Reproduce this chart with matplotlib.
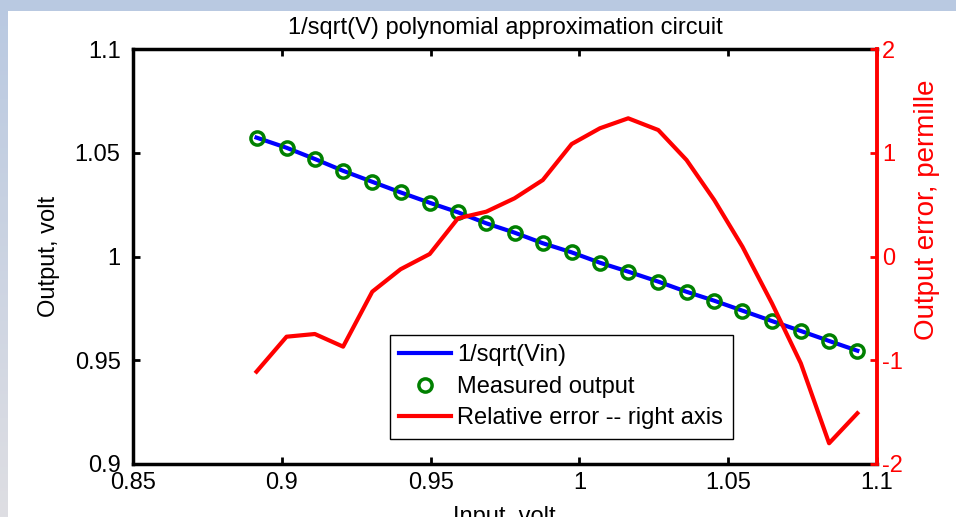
import matplotlib
matplotlib.use("Agg")
import matplotlib.pyplot as plt
import numpy as np
from matplotlib.patches import Rectangle

plt.rcParams['font.family'] = ['Liberation Sans', 'DejaVu Sans']

# ---- data ----
vin = [0.8915, 0.9016, 0.9111, 0.9206, 0.9304, 0.9399, 0.9497, 0.9592, 0.9687, 0.9782, 0.9877,
       0.9974, 1.0069, 1.0164, 1.0265, 1.0360, 1.0453, 1.0548, 1.0647, 1.0744, 1.0839, 1.0934]
ideal = [1.0573, 1.0524, 1.0470, 1.0413, 1.0360, 1.0309, 1.0259, 1.0213, 1.0160, 1.0115, 1.0064,
         1.0020, 0.9970, 0.9927, 0.9879, 0.9830, 0.9787, 0.9739, 0.9689, 0.9641, 0.9593, 0.9546]
measured = [1.0573, 1.0524, 1.0470, 1.0413, 1.0360, 1.0309, 1.0259, 1.0213, 1.0160, 1.0115, 1.0064,
            1.0020, 0.9970, 0.9927, 0.9879, 0.9830, 0.9787, 0.9739, 0.9689, 0.9641, 0.9593, 0.9546]
rel_err = [-1.110, -0.773, -0.747, -0.869, -0.339, -0.123, 0.024, 0.368, 0.432, 0.561, 0.737,
           1.084, 1.236, 1.332, 1.219, 0.930, 0.545, 0.094, -0.451, -1.029, -1.800, -1.511]

x_ticks = [0.85, 0.9, 0.95, 1.0, 1.05, 1.1]
x_tick_labels = ['0.85', '0.9', '0.95', '1', '1.05', '1.1']
y_ticks = [0.9, 0.95, 1.0, 1.05, 1.1]
y_tick_labels = ['0.9', '0.95', '1', '1.05', '1.1']
y2_ticks = [-2, -1, 0, 1, 2]
y2_tick_labels = ['-2', '-1', '0', '1', '2']

W, H = 956, 517
fig = plt.figure(figsize=(W / 100, H / 100), dpi=100, facecolor='white')

# slide background strips
bg = fig.add_axes([0, 0, 8 / W, 1], zorder=-10)
grad = np.linspace(0, 1, 256).reshape(-1, 1)
top_c = np.array([185, 201, 225]) / 255
bot_c = np.array([222, 222, 227]) / 255
img = top_c[None, None, :] * (1 - grad[:, :, None]) + bot_c[None, None, :] * grad[:, :, None]
bg.imshow(img, aspect='auto', extent=[0, 1, 0, 1])
bg.axis('off')
fig.patches.append(Rectangle((0, 1 - 11 / H), 1, 11 / H, transform=fig.transFigure,
                             facecolor='#b9c9e1', edgecolor='none', zorder=-5))

left, right, top, bottom = 133, 877, 49, 464
ax = fig.add_axes([left / W, 1 - bottom / H, (right - left) / W, (bottom - top) / H])
ax2 = ax.twinx()

fs = 17
l1, = ax.plot(vin, ideal, color='#0000ff', lw=3, label='1/sqrt(Vin)', zorder=2)
l2, = ax.plot(vin, measured, 'o', color='#008000', mfc='none', ms=9.5, mew=2.5,
              label='Measured output', zorder=3)
l3, = ax2.plot(vin, rel_err, color='#ff0000', lw=3, label='Relative error -- right axis')

ax.set_xlim(0.85, 1.1)
ax.set_ylim(0.9, 1.1)
ax2.set_ylim(-2, 2)

ax.set_xticks(x_ticks)
ax.set_xticklabels(x_tick_labels)
ax.set_yticks(y_ticks)
ax.set_yticklabels(y_tick_labels)
ax2.set_yticks(y2_ticks)
ax2.set_yticklabels(y2_tick_labels)

for s in ['left', 'top', 'bottom']:
    ax.spines[s].set_linewidth(2.5)
    ax.spines[s].set_color('black')
ax.spines['right'].set_visible(False)
for s in ['left', 'top', 'bottom']:
    ax2.spines[s].set_visible(False)
ax2.spines['right'].set_color('#ff0000')
ax2.spines['right'].set_linewidth(2.8)

ax.tick_params(axis='x', direction='in', length=5, width=2, top=True, labelsize=fs, pad=6)
ax.tick_params(axis='y', direction='in', length=5, width=2, right=False, labelsize=fs, pad=9)
ax2.tick_params(axis='y', direction='in', length=5, width=2, colors='#ff0000', labelsize=fs, pad=3.5)

ax.set_title('1/sqrt(V) polynomial approximation circuit', fontsize=fs, pad=11)

ax.set_xlabel('Input, volt', fontsize=fs)
ax.xaxis.set_label_coords(0.499, -0.102)

ax.set_ylabel('Output, volt', fontsize=fs)
ax.yaxis.label.set_va('center')
ax.yaxis.set_label_coords((48.5 - left) / (right - left), 0.5)

ax2.set_ylabel('Output error, permille', fontsize=20, color='#ff0000')
ax2.yaxis.label.set_va('center')
ax2.yaxis.set_label_coords((927 - left) / (right - left), (bottom - 210) / (bottom - top))

leg = ax2.legend([l1, l2, l3], [l1.get_label(), l2.get_label(), l3.get_label()],
                 loc='upper left', bbox_to_anchor=((390 - left) / (right - left), (bottom - 335) / (bottom - top)),
                 borderaxespad=0, fontsize=fs, frameon=True, fancybox=False, framealpha=1,
                 edgecolor='black', borderpad=0.4, handlelength=2.2, handletextpad=0.25,
                 labelspacing=0.4)
leg.get_frame().set_linewidth(1.0)

fig.savefig('out.png', dpi=100, facecolor='white')
